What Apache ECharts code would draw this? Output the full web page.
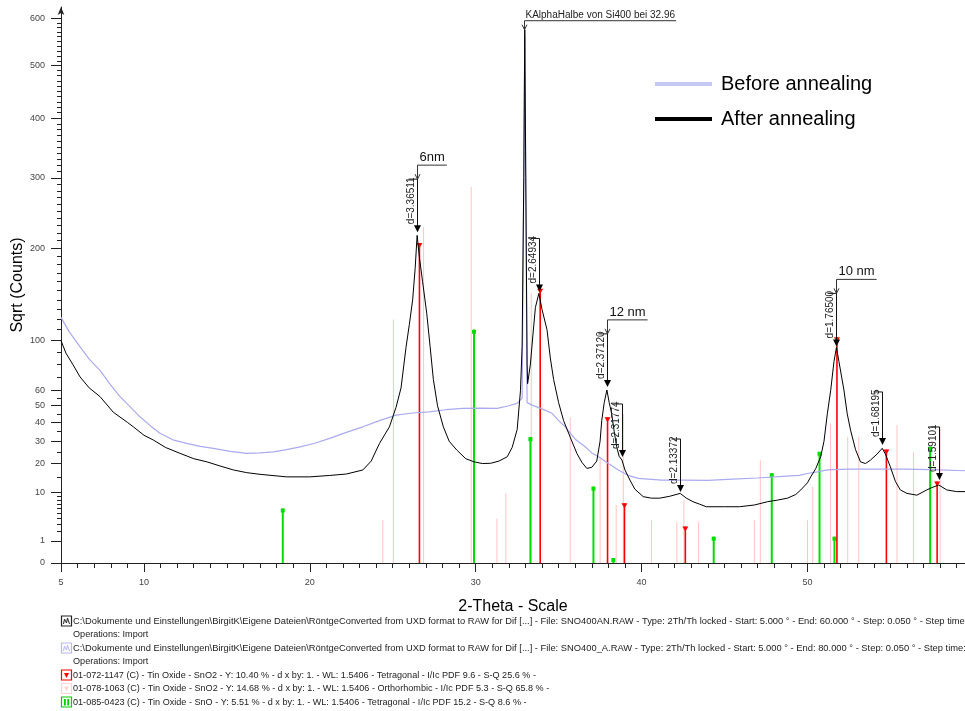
<!DOCTYPE html>
<html>
<head>
<meta charset="utf-8">
<script src="https://cdn.jsdelivr.net/npm/echarts@6/dist/echarts.min.js"></script>
<style>
  html, body { margin: 0; padding: 0; background: #fff; }
  #chart { width: 965px; height: 711px; }
</style>
</head>
<body>
<div id="chart"></div>
<script>
// after annealing (black), counts
const afterX = [5.0, 5.3, 5.7, 6.15, 6.7, 7.35, 8.15, 9.0, 9.36, 10.0, 10.56, 11.3, 12.18, 13.0, 13.79, 14.6, 15.4, 16.2, 17.0, 18.6, 20.0, 21.2, 22.2, 23.2, 23.7, 24.2, 24.8, 25.2, 25.5, 25.8, 26.0, 26.2, 26.35, 26.47, 26.6, 26.8, 27.05, 27.25, 27.45, 27.7, 28.05, 28.4, 28.86, 29.4, 29.9, 30.4, 30.9, 31.4, 31.9, 32.2, 32.5, 32.7, 32.8, 32.9, 32.96, 33.02, 33.1, 33.13, 33.3, 33.45, 33.6, 33.81, 34.0, 34.3, 34.5, 34.7, 35.0, 35.3, 35.7, 36.1, 36.4, 36.7, 37.0, 37.3, 37.5, 37.6, 37.75, 37.91, 38.05, 38.2, 38.35, 38.5, 38.65, 38.82, 39.0, 39.3, 39.6, 40.1, 40.6, 41.1, 41.7, 42.33, 42.7, 43.1, 43.5, 43.9, 45.0, 45.9, 46.8, 47.6, 48.2, 48.8, 49.3, 49.6, 50.0, 50.2, 50.5, 50.8, 51.0, 51.2, 51.4, 51.6, 51.75, 51.9, 52.2, 52.4, 52.6, 52.9, 53.2, 53.5, 53.8, 54.2, 54.51, 54.7, 55.0, 55.3, 55.6, 56.0, 56.6, 57.2, 57.5, 57.92, 58.4, 59.0, 59.5];
const afterY = [100, 89, 80, 70, 62, 56, 46, 40, 37.5, 33, 30.6, 27, 24.3, 22, 20.7, 19, 17.5, 16.5, 15.9, 15, 15, 15.5, 16, 17.5, 21, 28.9, 37.5, 49, 62, 94, 115, 140, 175, 217, 190, 160, 126, 95, 68, 50, 37.5, 30, 25.8, 22, 20.7, 20, 20.1, 21, 22.8, 27, 36, 60, 95, 300, 575, 300, 80, 65, 80, 105, 132, 147, 130, 110, 85, 68, 52, 41, 32, 24.3, 20.5, 18.1, 18.5, 21, 30, 41, 52, 60.5, 52, 45, 35, 27.3, 23, 21.4, 17.5, 13.9, 11, 8.9, 8.5, 8.5, 9, 9.8, 8.5, 7.6, 7, 6.4, 6.4, 6.4, 6.8, 7.6, 8, 8.5, 9.5, 10.8, 13, 15, 18, 22.8, 30, 45, 60, 82, 94, 82, 60.5, 45, 35.7, 26, 20.7, 20, 21.4, 24, 26.6, 24, 18.7, 13.5, 10.8, 9.8, 9.3, 10.8, 11.5, 12.3, 10.8, 10.3, 10.3];

// before annealing (lavender), counts
const beforeX = [5.0, 5.5, 6.15, 6.7, 7.35, 8.0, 8.56, 9.2, 9.76, 10.4, 10.97, 11.8, 12.58, 13.4, 14.19, 15.2, 16.2, 17.0, 17.81, 18.6, 19.42, 20.3, 21.2, 22.2, 23.2, 24.2, 25.2, 26.2, 27.2, 28.2, 29.2, 30.2, 31.3, 32.0, 32.5, 32.8, 32.9, 32.96, 33.02, 33.1, 33.4, 34.0, 34.6, 35.0, 35.4, 36.0, 36.6, 37.0, 37.4, 38.0, 38.6, 39.2, 39.8, 41.2, 42.5, 44.0, 45.5, 47.0, 48.5, 49.5, 50.0, 50.6, 51.2, 52.5, 54.0, 56.0, 58.0, 59.5];
const beforeY = [122, 108, 94.5, 84, 75, 64, 56, 49, 43.2, 38, 34, 30.5, 28.9, 27.5, 26.6, 25.2, 24.3, 24.5, 25, 26, 27.3, 29, 31.4, 34.5, 37.5, 41, 44.2, 45.5, 46.2, 47.5, 48.3, 48.5, 48.3, 50, 51.5, 55, 300, 560, 300, 52, 50.4, 48, 45.3, 41, 37.5, 31, 27.3, 24.5, 22.8, 20, 17.5, 15.5, 14.5, 13.9, 13.9, 13.8, 14.2, 14.6, 15.2, 15.5, 16.2, 16.8, 17.5, 17.8, 17.8, 17.8, 17.5, 17.2];

// reference patterns (2-theta, counts)
const sno2TetX = [26.61, 33.89, 37.95, 38.97, 42.64, 51.78, 54.76, 57.82];
const sno2TetY = [207, 152, 43, 7.2, 2.7, 103, 26, 13.4];
const sno2OrthoX = [24.4, 25.04, 26.86, 29.73, 31.28, 31.82, 33.35, 35.7, 37.5, 38.47, 38.9, 40.6, 42.13, 42.55, 43.44, 46.8, 47.16, 50.0, 50.32, 51.39, 52.43, 53.1, 55.4, 56.4, 58.0];
const sno2OrthoY = [3.7, 120, 228, 286, 4.0, 9.8, 147, 43, 22.8, 6.8, 45, 3.7, 3.4, 8.0, 3.4, 3.7, 21.4, 3.7, 11.8, 39.4, 32.2, 32.2, 38.5, 25, 37.5];
const snoX = [18.37, 29.9, 33.3, 37.1, 38.3, 44.35, 47.85, 50.73, 51.63, 57.4];
const snoY = [6.0, 110, 32, 11.8, 0.05, 1.4, 16.3, 25, 1.4, 27.3];

// peak labels
const peakX = [26.47, 33.81, 37.91, 38.82, 42.33, 51.75, 54.51, 57.92];
const peakY = [220, 148, 62, 22.3, 9.9, 94, 27.7, 13.6];
const peakText = ['d=3.36511', 'd=2.64934', 'd=2.37120', 'd=2.31774', 'd=2.13372', 'd=1.76500', 'd=1.68195', 'd=1.59101'];
const sizeText = ['6nm', '', '12 nm', '', '', '10 nm', '', ''];
const noteX = 32.96, noteY = 575, noteText = 'KAlphaHalbe von Si400 bei 32.96';

// axis ticks (counts)
const yLabelValues = [0, 1, 10, 20, 30, 40, 50, 60, 100, 200, 300, 400, 500, 600];
const yMinorValues = [1, 2, 3, 4, 5, 6, 7, 8, 9, 10, 15, 20, 25, 30, 35, 40, 45, 50, 55, 60, 70, 80, 90, 100, 110, 120, 130, 140, 150, 160, 170, 180, 190, 200, 210, 220, 230, 240, 250, 260, 270, 280, 290, 300, 310, 320, 330, 340, 350, 360, 370, 380, 390, 400, 410, 420, 430, 440, 450, 460, 470, 480, 490, 500, 510, 520, 530, 540, 550, 560, 570, 580, 590, 600];
const xLabelValues = [5, 10, 20, 30, 40, 50];
const xMinorValues = [];
for (let i = 5; i <= 59; i++) xMinorValues.push(i);

const footerLines = [
  ['line', 'C:\\Dokumente und Einstellungen\\BirgitK\\Eigene Dateien\\RöntgeConverted from UXD format to RAW for Dif [...] - File: SNO400AN.RAW - Type: 2Th/Th locked - Start: 5.000 ° - End: 60.000 ° - Step: 0.050 ° - Step time: 1. s'],
  ['', 'Operations: Import'],
  ['lav', 'C:\\Dokumente und Einstellungen\\BirgitK\\Eigene Dateien\\RöntgeConverted from UXD format to RAW for Dif [...] - File: SNO400_A.RAW - Type: 2Th/Th locked - Start: 5.000 ° - End: 80.000 ° - Step: 0.050 ° - Step time: 1. s'],
  ['', 'Operations: Import'],
  ['red', '01-072-1147 (C) - Tin Oxide - SnO2 - Y: 10.40 % - d x by: 1. - WL: 1.5406 - Tetragonal - I/Ic PDF 9.6 - S-Q 25.6 % -'],
  ['pink', '01-078-1063 (C) - Tin Oxide - SnO2 - Y: 14.68 % - d x by: 1. - WL: 1.5406 - Orthorhombic - I/Ic PDF 5.3 - S-Q 65.8 % -'],
  ['green', '01-085-0423 (C) - Tin Oxide - SnO - Y: 5.51 % - d x by: 1. - WL: 1.5406 - Tetragonal - I/Ic PDF 15.2 - S-Q 8.6 % -']
];

const RED = '#ff0000', PINK = '#ffc4c4', GREEN = '#00dd00', LAV = 'rgb(170,170,238)';
const FONT = 'Liberation Sans, Arial, sans-serif';

const chart = echarts.init(document.getElementById('chart'));
const measure = document.createElement('canvas').getContext('2d');
function textWidth(t, font) { measure.font = font; return measure.measureText(t).width; }

function pairs(xs, ys) { return xs.map((x, i) => [x, Math.sqrt(ys[i])]); }

function stickSeries(name, xs, ys, color, width, marker) {
  return {
    type: 'custom', name: name, silent: true, clip: true,
    data: pairs(xs, ys),
    encode: { x: 0, y: 1 },
    renderItem: function (params, api) {
      const top = api.coord([api.value(0), api.value(1)]);
      const base = api.coord([api.value(0), 0]);
      const kids = [{ type: 'line', shape: { x1: top[0], y1: top[1], x2: base[0], y2: base[1] }, style: { stroke: color, lineWidth: width } }];
      if (marker === 'tri') {
        kids.push({ type: 'polygon', shape: { points: [[top[0] - 3, top[1]], [top[0] + 3, top[1]], [top[0], top[1] + 5]] }, style: { fill: color } });
      } else if (marker === 'sq') {
        kids.push({ type: 'rect', shape: { x: top[0] - 2, y: top[1], width: 4, height: 4 }, style: { fill: color } });
      }
      return { type: 'group', children: kids };
    }
  };
}

// footer graphics
const footer = [];
footerLines.forEach(function (row, i) {
  const cy = 621 + i * 13.5;
  const fs = (i === 0 || i === 2) ? 9.35 : 9.1;
  footer.push({ type: 'text', x: 73, y: cy, style: { text: row[1], font: fs + 'px ' + FONT, fill: '#222', verticalAlign: 'middle' } });
  if (!row[0]) return;
  const kids = [];
  const stroke = { line: '#222', lav: '#b8b8ee', red: RED, pink: '#ffd4d4', green: '#00cc00' }[row[0]];
  kids.push({ type: 'rect', shape: { x: 0, y: 0, width: 10, height: 10 }, style: { stroke: stroke, fill: '#fff', lineWidth: 1.2 } });
  if (row[0] === 'line' || row[0] === 'lav') {
    kids.push({ type: 'polyline', shape: { points: [[2, 8], [3, 3], [5, 7], [6, 2], [8, 8]] }, style: { stroke: stroke, fill: null, lineWidth: 1 } });
  } else if (row[0] === 'red' || row[0] === 'pink') {
    kids.push({ type: 'polygon', shape: { points: [[2.5, 3], [7.5, 3], [5, 8]] }, style: { fill: stroke } });
  } else {
    kids.push({ type: 'rect', shape: { x: 2.5, y: 2, width: 1.8, height: 6.5 }, style: { fill: stroke } });
    kids.push({ type: 'rect', shape: { x: 5.8, y: 2, width: 1.8, height: 6.5 }, style: { fill: stroke } });
  }
  footer.push({ type: 'group', x: 61.5, y: cy - 5, children: kids });
});

const option = {
  animation: false,
  backgroundColor: '#fff',
  textStyle: { fontFamily: FONT },
  grid: { left: 61, right: 0, top: 7, bottom: 148, outerBoundsMode: 'none', containLabel: false },
  legend: {
    data: ['Before annealing', 'After annealing'],
    orient: 'vertical', left: 650, top: 68,
    itemWidth: 57, itemHeight: 4, itemGap: 13, icon: 'rect',
    selectedMode: false,
    textStyle: { fontSize: 20, fontFamily: FONT, color: '#000', lineHeight: 22, padding: [0, 0, 0, 4] }
  },
  xAxis: [{
    type: 'value', min: 5, max: 59.5,
    name: '2-Theta - Scale', nameLocation: 'middle', nameGap: 36,
    nameTextStyle: { fontSize: 16, color: '#000', fontFamily: FONT },
    axisLine: { lineStyle: { color: '#222', width: 1 } },
    axisTick: { customValues: xLabelValues, length: 9, lineStyle: { color: '#222' } },
    axisLabel: { customValues: xLabelValues, fontSize: 9, color: '#444', margin: 15 },
    splitLine: { show: false }
  }, {
    type: 'value', min: 5, max: 59.5, position: 'bottom',
    axisLine: { show: false },
    axisTick: { customValues: xMinorValues, length: 5, lineStyle: { color: '#222' } },
    axisLabel: { show: false },
    splitLine: { show: false }
  }],
  yAxis: [{
    type: 'value', min: 0, max: 25,
    name: 'Sqrt (Counts)', nameLocation: 'middle', nameGap: 35, nameRotate: 90, nameMoveOverlap: false,
    nameTextStyle: { fontSize: 16, color: '#000', fontFamily: FONT },
    axisLine: { show: true, symbol: ['none', 'arrow'], symbolSize: [5, 8], lineStyle: { color: '#222', width: 1 } },
    axisTick: { customValues: yLabelValues.map(Math.sqrt), length: 10, lineStyle: { color: '#222' } },
    axisLabel: { customValues: yLabelValues.map(Math.sqrt), fontSize: 9, color: '#444', margin: 16,
      formatter: function (v) { return String(Math.round(v * v)); } },
    splitLine: { show: false }
  }, {
    type: 'value', min: 0, max: 25, position: 'left',
    axisLine: { show: false },
    axisTick: { customValues: yMinorValues.map(Math.sqrt), length: 4, lineStyle: { color: '#222' } },
    axisLabel: { show: false },
    splitLine: { show: false }
  }],
  graphic: footer,
  series: [
    stickSeries('SnO2 ortho', sno2OrthoX, sno2OrthoY, PINK, 1, ''),
    {
      name: 'Before annealing', type: 'line', showSymbol: false, silent: true,
      data: pairs(beforeX, beforeY),
      lineStyle: { color: LAV, width: 1.2 }, itemStyle: { color: 'rgb(200,200,245)' }
    },
    stickSeries('SnO', snoX, snoY, GREEN, 2, 'sq'),
    stickSeries('SnO2 tet', sno2TetX, sno2TetY, RED, 1.6, 'tri'),
    {
      name: 'After annealing', type: 'line', showSymbol: false, silent: true,
      data: pairs(afterX, afterY),
      lineStyle: { color: '#000', width: 1 }, itemStyle: { color: '#000' }
    },
    {
      type: 'custom', name: 'labels', silent: true, clip: false, z: 5,
      data: pairs(peakX, peakY),
      encode: { x: 0, y: 1 },
      renderItem: function (params, api) {
        const i = params.dataIndex;
        const p = api.coord([api.value(0), api.value(1)]);
        const x = Math.round(p[0]) + 0.5;
        const tip = p[1] - 1;
        const top = tip - 53;
        const kids = [
          { type: 'line', shape: { x1: x, y1: top, x2: x, y2: tip - 6 }, style: { stroke: '#111', lineWidth: 1 } },
          { type: 'line', shape: { x1: x - 9, y1: top, x2: x, y2: top }, style: { stroke: '#111', lineWidth: 1 } },
          { type: 'polygon', shape: { points: [[x - 3.5, tip - 7], [x + 3.5, tip - 7], [x, tip]] }, style: { fill: '#000' } },
          { type: 'text', x: x - 1.5, y: tip - 8, rotation: Math.PI / 2,
            style: { text: peakText[i], font: '10px ' + FONT, fill: '#222', align: 'left', verticalAlign: 'bottom' } }
        ];
        const s = sizeText[i];
        if (s) {
          const uy = top - 14;
          const w = textWidth(s, '13px ' + FONT) + 4;
          kids.push({ type: 'line', shape: { x1: x, y1: uy, x2: x, y2: top }, style: { stroke: '#333', lineWidth: 1 } });
          kids.push({ type: 'polyline', shape: { points: [[x - 2.5, top - 5], [x, top], [x + 2.5, top - 5]] }, style: { stroke: '#333', fill: null, lineWidth: 1 } });
          kids.push({ type: 'line', shape: { x1: x, y1: uy, x2: x + w, y2: uy }, style: { stroke: '#333', lineWidth: 1 } });
          kids.push({ type: 'text', x: x + 2, y: uy - 1, style: { text: s, font: '13px ' + FONT, fill: '#111', align: 'left', verticalAlign: 'bottom' } });
        }
        if (i === 0) {
          // Si K-alpha/2 note above the substrate peak
          const q = api.coord([noteX, Math.sqrt(noteY)]);
          const nx = Math.round(q[0]) - 0.5;
          const ny = q[1] - 9;
          const nw = textWidth(noteText, '10px ' + FONT) + 2;
          kids.push({ type: 'line', shape: { x1: nx, y1: ny, x2: nx, y2: q[1] }, style: { stroke: '#333', lineWidth: 1 } });
          kids.push({ type: 'polyline', shape: { points: [[nx - 2.5, q[1] - 5], [nx, q[1]], [nx + 2.5, q[1] - 5]] }, style: { stroke: '#333', fill: null, lineWidth: 1 } });
          kids.push({ type: 'line', shape: { x1: nx, y1: ny, x2: nx + nw, y2: ny }, style: { stroke: '#333', lineWidth: 1 } });
          kids.push({ type: 'text', x: nx + 1, y: ny - 0.5, style: { text: noteText, font: '10px ' + FONT, fill: '#222', align: 'left', verticalAlign: 'bottom' } });
        }
        return { type: 'group', children: kids };
      }
    }
  ]
};
chart.setOption(option);
</script>
</body>
</html>
